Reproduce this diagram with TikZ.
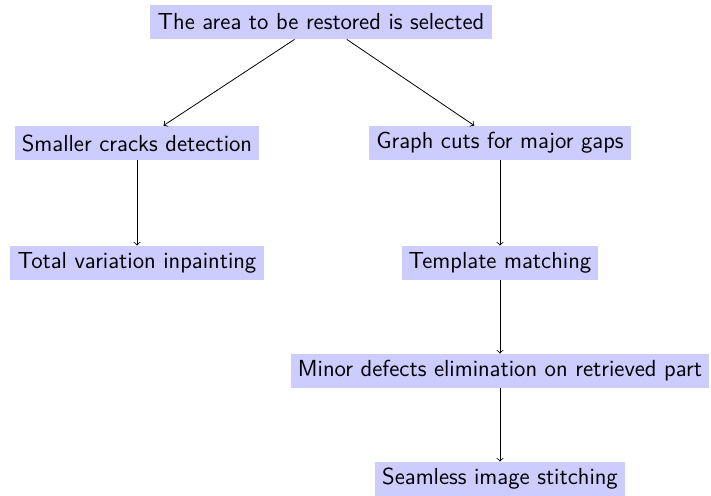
\documentclass[tikz,border=0pt]{standalone}
\usepackage{amsmath}
\usepackage{tikz}
\begin{document}
\begin{tikzpicture}[x=1pt,y=1pt]
\tikzstyle{every node}=[fill=blue!20,font=\sffamily\fontsize{11.6}{14}\selectfont,minimum height=17pt,inner xsep=3.6pt,inner ysep=3pt];
\useasboundingbox (0,0) rectangle (355.5,248);
\node (area) at (160.5,237) {The area to be restored is selected};
\node (cracks) at (68.5,176.5) {Smaller cracks detection};
\node (cuts) at (250,176.5) {Graph cuts for major gaps};
\node (tv) at (68.5,116.5) {Total variation inpainting};
\node (tmpl) at (250,116.5) {Template matching};
\node (minor) at (250,62.5) {Minor defects elimination on retrieved part};
\node (stitch) at (250,8.5) {Seamless image stitching};
\draw[->] (area) -- (cracks);
\draw[->] (area) -- (cuts);
\draw[->] (cracks) -- (tv);
\draw[->] (cuts) -- (tmpl);
\draw[->] (tmpl) -- (minor);
\draw[->] (minor) -- (stitch);
\end{tikzpicture}
\end{document}
